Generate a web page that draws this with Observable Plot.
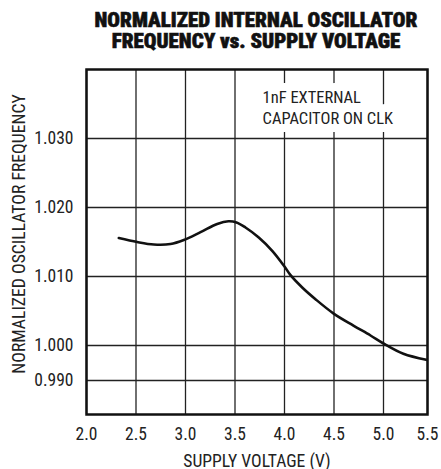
<!DOCTYPE html>
<html>
<head>
<meta charset="utf-8">
<script src="https://cdn.jsdelivr.net/npm/d3@7"></script>
<script src="https://cdn.jsdelivr.net/npm/@observablehq/plot@0.6"></script>
<style>
  html, body { margin: 0; padding: 0; background: #fff; }
  #title {
    height: 56px; width: 441px; box-sizing: border-box; padding-left: 71px; padding-top: 10px;
    text-align: center; font-family: "Roboto Condensed", "DejaVu Sans Condensed", sans-serif;
    font-weight: 900; font-size: 21px; line-height: 21px; color: #111; white-space: nowrap;
    -webkit-text-stroke: 0.6px #111;
  }
  svg text { fill: #222; }
</style>
</head>
<body>
<div id="title">NORMALIZED INTERNAL OSCILLATOR<br>FREQUENCY vs. SUPPLY VOLTAGE</div>
<div id="chart"></div>
<script>
const voltage   = [2.326, 2.512, 2.680, 2.848, 2.983, 3.152, 3.320, 3.434, 3.515, 3.606, 3.740, 3.876, 4.000, 4.061, 4.179, 4.313, 4.500, 4.700, 4.869, 5.000, 5.226, 5.486];
const frequency = [1.01558, 1.01500, 1.01464, 1.01471, 1.01529, 1.01642, 1.01761, 1.01800, 1.01783, 1.01710, 1.01565, 1.01372, 1.01145, 1.01019, 1.00841, 1.00671, 1.00459, 1.00286, 1.00145, 1.00029, 0.99763, 0.99591];
const xTicks = [2.0, 2.5, 3.0, 3.5, 4.0, 4.5, 5.0, 5.5];
const yTicks = [0.990, 1.000, 1.010, 1.020, 1.030];
const note = ["1nF EXTERNAL", "CAPACITOR ON CLK"];
const xLabel = "SUPPLY VOLTAGE (V)";
const yLabel = "NORMALIZED OSCILLATOR FREQUENCY";

const data = voltage.map((v, i) => ({v, f: frequency[i]}));
const font = '"Roboto Condensed", "DejaVu Sans Condensed", sans-serif';

const W = 441, H = 413;
const mL = 86, mR = 14, mT = 13, mB = 55;
const chart = Plot.plot({
  width: W, height: H,
  marginLeft: mL, marginRight: mR, marginTop: mT, marginBottom: mB,
  style: {fontFamily: font, fontSize: "17.5px", color: "#222", background: "white"},
  x: {type: "linear", domain: [2.0, 5.0, 5.5], range: [mL, 383, W - mR]},
  y: {type: "linear", domain: [0.985, 0.990, 1.000, 1.040], range: [358, 324, 289, 13]},
  marks: [
    Plot.gridX(xTicks, {stroke: "#222", strokeOpacity: 1, strokeWidth: 1.3}),
    Plot.gridY(yTicks, {stroke: "#222", strokeOpacity: 1, strokeWidth: 1.3}),
    Plot.text([note.join("\n")], {x: 3.778, y: 1.03735, text: d => d, textAnchor: "start", lineAnchor: "top",
      fontSize: 16.5, lineHeight: 1.28, stroke: "white", strokeWidth: 16, fill: "#222"}),
    Plot.axisX(xTicks, {tickSize: 0, tickPadding: 13, tickFormat: d3.format(".1f"), fontSize: 17.5, label: null}),
    Plot.axisY(yTicks, {tickSize: 0, tickPadding: 13, tickFormat: d3.format(".3f"), fontSize: 17.5, label: null}),
    Plot.frame({stroke: "#111", strokeWidth: 2.5}),
    Plot.line(data, {x: "v", y: "f", curve: "catmull-rom", stroke: "#111", strokeWidth: 2.6}),
    Plot.text([xLabel], {frameAnchor: "bottom", dy: 52, lineAnchor: "bottom", fontSize: 17.6, text: d => d}),
    Plot.text([yLabel], {frameAnchor: "left", dx: -67, dy: -8, rotate: -90, textAnchor: "middle", lineAnchor: "middle", fontSize: 17.7, text: d => d})
  ]
});
document.getElementById("chart").appendChild(chart);
</script>
</body>
</html>
